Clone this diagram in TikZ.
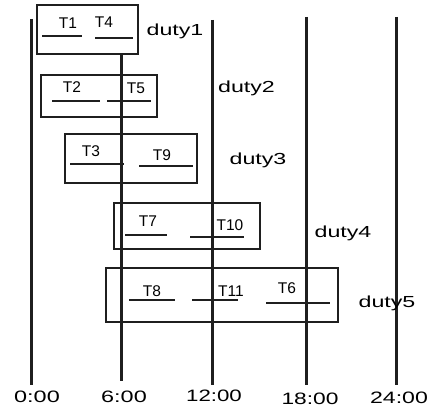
\documentclass[tikz,border=0pt]{standalone}
\usepackage{fontspec}
\usepackage{graphicx}
\setmainfont{Liberation Sans}
\tikzset{
  vline/.style={line width=3pt, draw=black!88},
  dbox/.style={line width=2.6pt, draw=black!88},
  seg/.style={line width=2.7pt, draw=black!88},
  tlab/.style={font=\fontsize{15.5}{18}\selectfont, anchor=base, inner sep=0pt},
  dlab/.style={font=\fontsize{16}{19}\selectfont, anchor=base, inner sep=0pt},
  hlab/.style={font=\fontsize{16.5}{19}\selectfont, anchor=base, inner sep=0pt}
}
\begin{document}
\begin{tikzpicture}[x=1pt,y=-1pt]
\useasboundingbox (0,0) rectangle (444,409);
% time axis lines
\coordinate (h0t) at (31,19);  \coordinate (h0b) at (31,385);
\coordinate (h6t) at (121,54); \coordinate (h6b) at (121,381);
\coordinate (h12t) at (212,20); \coordinate (h12b) at (212,385);
\coordinate (h18t) at (306,17); \coordinate (h18b) at (306,385);
\coordinate (h24t) at (396,17); \coordinate (h24b) at (396,385);
\draw[vline] (h0t) -- (h0b);
\draw[vline] (h6t) -- (h6b);
\draw[vline] (h12t) -- (h12b);
\draw[vline] (h18t) -- (h18b);
\draw[vline] (h24t) -- (h24b);
% duty boxes
\draw[dbox] (37,5) rectangle (138,54);
\draw[dbox] (41,75) rectangle (157,117);
\draw[dbox] (65,134) rectangle (197,183);
\draw[dbox] (114,203) rectangle (260,249);
\draw[dbox] (106,268) rectangle (338,322);
% task segments
\draw[seg] (42,36) -- (82,36);
\draw[seg] (95,38) -- (133,38);
\draw[seg] (52,101) -- (100,101);
\draw[seg] (107,101) -- (151,101);
\draw[seg] (70,164) -- (124,164);
\draw[seg] (139,166) -- (193,166);
\draw[seg] (125,235) -- (167,235);
\draw[seg] (190,237) -- (244,237);
\draw[seg] (129,300) -- (175,300);
\draw[seg] (192,300) -- (238,300);
\draw[seg] (266,303) -- (330,303);
% task labels
\node[tlab] (T1) at (68,29) {T1};
\node[tlab] (T4) at (104,28) {T4};
\node[tlab] (T2) at (72,93) {T2};
\node[tlab] (T5) at (136,94) {T5};
\node[tlab] (T3) at (91,157) {T3};
\node[tlab] (T9) at (162,160) {T9};
\node[tlab] (T7) at (148,226) {T7};
\node[tlab] (T10) at (230,230) {T10};
\node[tlab] (T8) at (152,296) {T8};
\node[tlab] (T11) at (231,296) {T11};
\node[tlab] (T6) at (287,293) {T6};
% duty labels
\node[dlab] (d1) at (175,36) {\scalebox{1.45}[1]{duty1}};
\node[dlab] (d2) at (246.5,93) {\scalebox{1.45}[1]{duty2}};
\node[dlab] (d3) at (258,164) {\scalebox{1.45}[1]{duty3}};
\node[dlab] (d4) at (343,237) {\scalebox{1.45}[1]{duty4}};
\node[dlab] (d5) at (387,307) {\scalebox{1.45}[1]{duty5}};
% time labels
\node[hlab] (L0) at (37,402) {\scalebox{1.42}[1]{0:00}};
\node[hlab] (L6) at (124,402) {\scalebox{1.42}[1]{6:00}};
\node[hlab] (L12) at (214,401) {\scalebox{1.35}[1]{12:00}};
\node[hlab] (L18) at (310,404) {\scalebox{1.38}[1]{18:00}};
\node[hlab] (L24) at (399,403) {\scalebox{1.4}[1]{24:00}};
\end{tikzpicture}
\end{document}
